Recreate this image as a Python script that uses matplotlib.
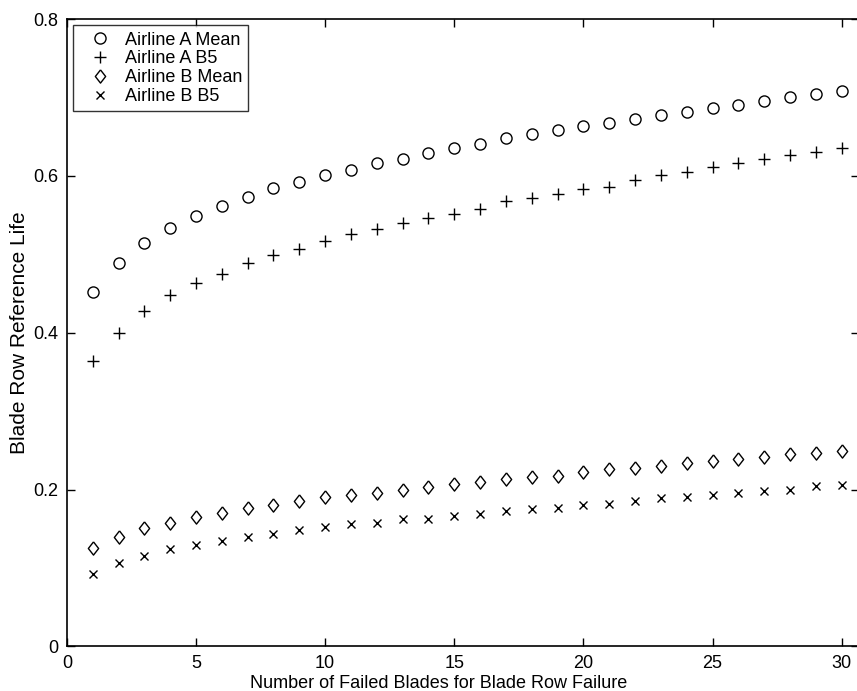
import matplotlib
matplotlib.use("Agg")
import matplotlib.pyplot as plt

plt.rcParams['font.family'] = ['Liberation Sans', 'DejaVu Sans']

failed_blades = list(range(1, 31))
airline_a_mean = [0.452, 0.489, 0.514, 0.533, 0.549, 0.562, 0.573, 0.584, 0.592, 0.601,
                  0.608, 0.616, 0.622, 0.629, 0.636, 0.641, 0.648, 0.653, 0.658, 0.663,
                  0.668, 0.673, 0.677, 0.682, 0.686, 0.690, 0.696, 0.700, 0.704, 0.708]
airline_a_b5 = [0.364, 0.400, 0.428, 0.448, 0.463, 0.475, 0.489, 0.499, 0.507, 0.517,
                0.526, 0.532, 0.540, 0.546, 0.552, 0.558, 0.568, 0.572, 0.577, 0.583,
                0.586, 0.595, 0.601, 0.605, 0.611, 0.616, 0.621, 0.626, 0.631, 0.636]
airline_b_mean = [0.126, 0.140, 0.151, 0.158, 0.165, 0.170, 0.176, 0.181, 0.185, 0.190,
                  0.193, 0.196, 0.200, 0.203, 0.207, 0.210, 0.213, 0.216, 0.218, 0.222,
                  0.226, 0.228, 0.230, 0.234, 0.236, 0.239, 0.242, 0.245, 0.247, 0.249]
airline_b_b5 = [0.093, 0.106, 0.116, 0.124, 0.129, 0.134, 0.140, 0.144, 0.148, 0.152,
                0.156, 0.158, 0.162, 0.163, 0.166, 0.169, 0.173, 0.175, 0.177, 0.180,
                0.182, 0.186, 0.189, 0.191, 0.193, 0.196, 0.198, 0.200, 0.204, 0.206]
series_labels = ["Airline A Mean", "Airline A B5", "Airline B Mean", "Airline B B5"]
x_ticks = [0, 5, 10, 15, 20, 25, 30]
y_ticks = [0, 0.2, 0.4, 0.6, 0.8]
y_tick_labels = ["0", "0.2", "0.4", "0.6", "0.8"]

# tall diamond marker shape
diamond = [(0, 1), (0.78, 0), (0, -1), (-0.78, 0), (0, 1)]

fig = plt.figure(figsize=(8.57, 6.91), dpi=100)
# right spine lies just past the image edge, as in the cropped scan
ax = fig.add_axes([0.078, 0.0644, 0.924, 0.9081])

ax.plot(failed_blades, airline_a_mean, linestyle='none', marker='o', markersize=8,
        markerfacecolor='none', markeredgecolor='black', markeredgewidth=1.0, label=series_labels[0])
ax.plot(failed_blades, airline_a_b5, linestyle='none', marker='+', markersize=9,
        color='black', markeredgewidth=1.0, label=series_labels[1])
ax.plot(failed_blades, airline_b_mean, linestyle='none', marker=diamond, markersize=9.5,
        markerfacecolor='none', markeredgecolor='black', markeredgewidth=1.0, label=series_labels[2])
ax.plot(failed_blades, airline_b_b5, linestyle='none', marker='x', markersize=5.5,
        color='black', markeredgewidth=1.0, label=series_labels[3])

ax.set_xlim(0, 30.66)
ax.set_ylim(0, 0.8)
ax.set_xticks(x_ticks)
ax.set_yticks(y_ticks)
ax.set_yticklabels(y_tick_labels)
ax.tick_params(direction='in', top=True, right=True, length=6, width=1, labelsize=13,
               colors='black', pad=6)
for s in ax.spines.values():
    s.set_linewidth(1.2)
    s.set_color('black')

ax.set_xlabel("Number of Failed Blades for Blade Row Failure", fontsize=13)
ax.xaxis.set_label_coords(0.469, -0.045)
ax.set_ylabel("Blade Row Reference Life", fontsize=15)
ax.yaxis.set_label_coords(-0.048, 0.5)

leg = ax.legend(loc='upper left', fontsize=13, frameon=True, fancybox=False,
                edgecolor='black', borderpad=0.35, labelspacing=0.1, handletextpad=0.2,
                handlelength=2.3, borderaxespad=0.35)
leg.get_frame().set_linewidth(1.0)

fig.savefig("out.png", dpi=100)
